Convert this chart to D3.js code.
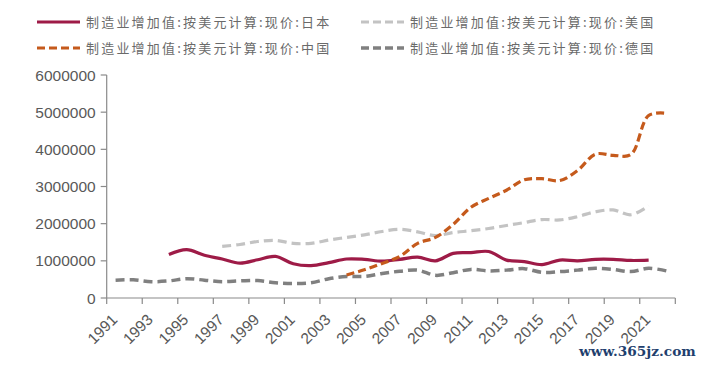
<!DOCTYPE html>
<html>
<head>
<meta charset="utf-8">
<script src="https://cdn.jsdelivr.net/npm/d3@7"></script>
<style>
  body { margin: 0; background: #fff; }
  svg { display: block; }
</style>
</head>
<body>
<svg width="702" height="366"></svg>
<script>
// years on the category axis
var years = d3.range(1991, 2023);
var tickLabels = ["1991","1993","1995","1997","1999","2001","2003","2005","2007","2009","2011","2013","2015","2017","2019","2021"];
var yTicks = [0, 1000000, 2000000, 3000000, 4000000, 5000000, 6000000];

// 制造业增加值, current US$
var japanStart = 1994;
var japan = [1170000, 1300000, 1150000, 1050000, 940000, 1030000, 1120000, 920000, 870000, 950000,
	1050000, 1040000, 990000, 1040000, 1100000, 1000000, 1200000, 1220000, 1250000, 1020000,
	980000, 900000, 1020000, 1000000, 1040000, 1040000, 1010000, 1020000];
var usStart = 1997;
var us = [1390000, 1440000, 1520000, 1550000, 1470000, 1470000, 1560000, 1630000, 1700000, 1790000,
	1850000, 1780000, 1680000, 1760000, 1810000, 1870000, 1950000, 2030000, 2110000, 2100000,
	2190000, 2320000, 2370000, 2240000, 2480000];
var chinaStart = 2004;
var china = [620000, 760000, 930000, 1120000, 1470000, 1630000, 1980000, 2440000, 2680000, 2900000,
	3180000, 3210000, 3160000, 3430000, 3870000, 3840000, 3860000, 4910000, 4970000];
var germanyStart = 1991;
var germany = [480000, 490000, 440000, 460000, 520000, 480000, 440000, 460000, 470000, 410000,
	390000, 410000, 520000, 580000, 580000, 660000, 720000, 750000, 610000, 680000,
	770000, 730000, 750000, 790000, 690000, 710000, 750000, 800000, 770000, 710000,
	800000, 730000];

var series = [
	{ name: "制造业增加值:按美元计算:现价:日本", start: japanStart, values: japan, color: "#9e1b47", dash: null, width: 3.2 },
	{ name: "制造业增加值:按美元计算:现价:美国", start: usStart, values: us, color: "#c3c3c3", dash: "9,5", width: 3.2 },
	{ name: "制造业增加值:按美元计算:现价:中国", start: chinaStart, values: china, color: "#c55a1c", dash: "8,4", width: 3.2 },
	{ name: "制造业增加值:按美元计算:现价:德国", start: germanyStart, values: germany, color: "#808080", dash: "9,5", width: 3.5 }
];

var svg = d3.select("svg");
var axisColor = "#8a8a8a",
	textColor = "#595959";

var x = d3.scaleBand()
	.domain(years)
	.range([106.7, 675.3])
	.padding(0);

var y = d3.scaleLinear()
	.domain([0, 6000000])
	.range([298, 75]);

function cx(yr) { return x(yr) + x.bandwidth() / 2; }

// y axis
var yAxis = svg.append("g");
yAxis.append("line")
	.attr("x1", x.range()[0]).attr("x2", x.range()[0])
	.attr("y1", y(6000000)).attr("y2", y(0))
	.attr("stroke", axisColor).attr("stroke-width", 1.2);
yAxis.selectAll("line.tick")
	.data(yTicks)
	.enter().append("line")
	.attr("class", "tick")
	.attr("x1", x.range()[0] - 6).attr("x2", x.range()[0])
	.attr("y1", function(d) { return y(d); })
	.attr("y2", function(d) { return y(d); })
	.attr("stroke", axisColor).attr("stroke-width", 1.2);
yAxis.selectAll("text")
	.data(yTicks)
	.enter().append("text")
	.attr("x", x.range()[0] - 11)
	.attr("y", function(d) { return y(d); })
	.attr("dy", "0.36em")
	.attr("text-anchor", "end")
	.attr("font-family", "Liberation Sans, Arial, sans-serif")
	.attr("font-size", 15.5)
	.attr("fill", textColor)
	.text(function(d) { return d; });

// x axis, a tick every two categories
var xAxis = svg.append("g");
xAxis.append("line")
	.attr("x1", x.range()[0]).attr("x2", x.range()[1])
	.attr("y1", y(0)).attr("y2", y(0))
	.attr("stroke", axisColor).attr("stroke-width", 1.2);
var bounds = d3.range(0, years.length + 1, 2);
xAxis.selectAll("line.tick")
	.data(bounds)
	.enter().append("line")
	.attr("class", "tick")
	.attr("x1", function(i) { return x.range()[0] + i * x.bandwidth(); })
	.attr("x2", function(i) { return x.range()[0] + i * x.bandwidth(); })
	.attr("y1", y(0)).attr("y2", y(0) + 6)
	.attr("stroke", axisColor).attr("stroke-width", 1.2);
xAxis.selectAll("text")
	.data(tickLabels)
	.enter().append("text")
	.attr("transform", function(d) { return "translate(" + (cx(+d) - 5) + "," + (y(0) + 15) + ") rotate(-45)"; })
	.attr("text-anchor", "end")
	.attr("dy", "0.7em")
	.attr("font-family", "Liberation Sans, Arial, sans-serif")
	.attr("font-size", 15.5)
	.attr("fill", textColor)
	.text(function(d) { return d; });

// lines
var line = d3.line()
	.x(function(d) { return cx(d.year); })
	.y(function(d) { return y(d.value); })
	.curve(d3.curveCatmullRom.alpha(0.5));

var drawOrder = [3, 1, 0, 2];
svg.append("g")
	.selectAll("path")
	.data(drawOrder.map(function(i) { return series[i]; }))
	.enter().append("path")
	.attr("fill", "none")
	.attr("stroke", function(s) { return s.color; })
	.attr("stroke-width", function(s) { return s.width; })
	.attr("stroke-dasharray", function(s) { return s.dash; })
	.attr("d", function(s) {
		return line(s.values.map(function(v, i) { return { year: s.start + i, value: v }; }));
	});

// legend
var legendPos = [[37, 22], [361, 22], [37, 48], [361, 48]];
var legend = svg.append("g")
	.selectAll("g")
	.data(series)
	.enter().append("g")
	.attr("transform", function(d, i) { return "translate(" + legendPos[i][0] + "," + legendPos[i][1] + ")"; });
legend.append("line")
	.attr("x1", 0).attr("x2", 43)
	.attr("stroke", function(s) { return s.color; })
	.attr("stroke-width", function(s) { return s.width; })
	.attr("stroke-dasharray", function(s) { return s.dash ? "8,4" : null; });
legend.append("text")
	.attr("x", 49)
	.attr("dy", "0.36em")
	.attr("font-family", "Noto Sans CJK SC, sans-serif")
	.attr("font-size", 13)
	.attr("letter-spacing", 2.2)
	.attr("fill", "#6a6a6a")
	.text(function(s) { return s.name; });

// source mark at the bottom right
svg.append("text")
	.attr("x", 579)
	.attr("y", 356)
	.attr("font-family", "DejaVu Serif, serif")
	.attr("font-size", 13.7)
	.attr("font-weight", "bold")
	.attr("fill", "#1f3f6e")
	.text("www.365jz.com");
</script>
</body>
</html>
